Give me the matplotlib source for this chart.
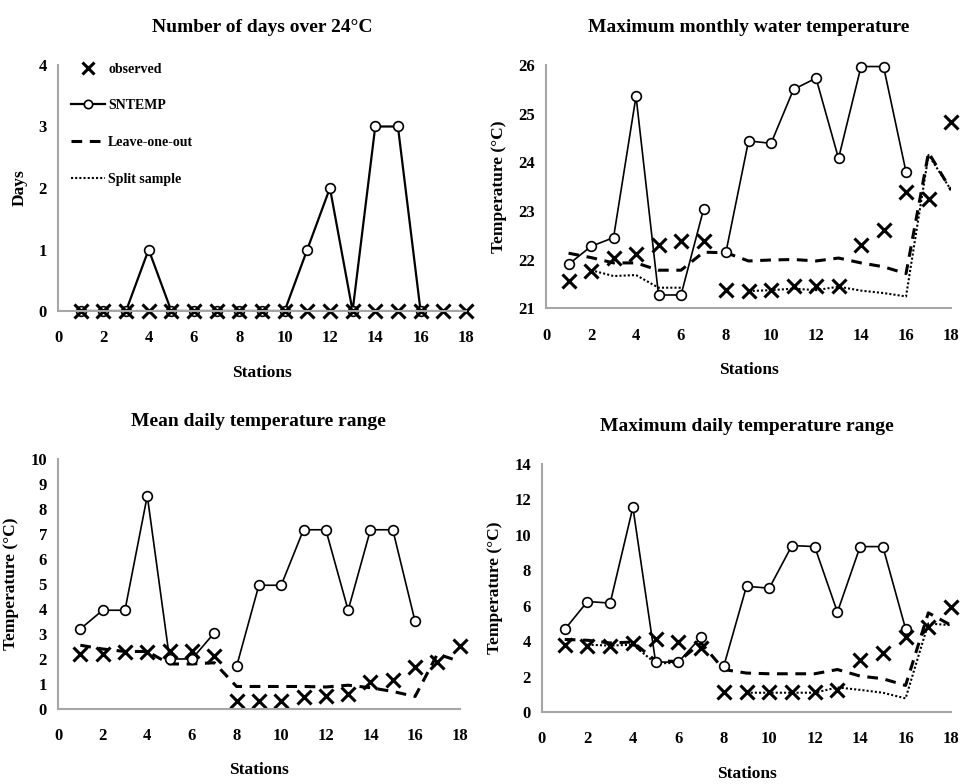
import numpy as np
import matplotlib.pyplot as plt
from matplotlib.lines import Line2D

nan = np.nan
stations = np.arange(1, 19)

# Number of days over 24 C
days_obs = [0] * 18
days_sntemp = [0, 0, 0, 1, 0, 0, 0, 0, 0, 0, 1, 2, 0, 3, 3, 0, nan, nan]
days_loo = [0] * 18
days_split = [0] * 18

# Maximum monthly water temperature
maxT_obs = [21.55, 21.77, 22.03, 22.12, 22.30, 22.39, 22.39, 21.38, 21.36,
            21.38, 21.45, 21.45, 21.45, 22.30, 22.61, 23.38, 23.24, 24.82]
maxT_sntemp = [21.90, 22.27, 22.45, 25.36, 21.27, 21.27, 23.03, 22.16, 24.44,
               24.39, 25.50, 25.73, 24.08, 25.97, 25.97, 23.80, nan, nan]
maxT_loo = [22.13, 22.04, 21.93, 21.93, 21.78, 21.78, 22.15, 22.14, 21.97,
            21.99, 22.00, 21.97, 22.03, 21.93, 21.85, 21.71, 24.20, 23.43]
maxT_split = [nan, 21.78, 21.66, 21.68, 21.42, 21.42, nan, nan, 21.35,
              21.37, 21.40, 21.37, 21.44, 21.36, 21.31, 21.24, 24.15, 23.43]

# Mean daily temperature range
meanR_obs = [2.20, 2.20, 2.27, 2.27, 2.33, 2.33, 2.13, 0.33, 0.33,
             0.33, 0.47, 0.53, 0.60, 1.07, 1.17, 1.67, 1.87, 2.50]
meanR_sntemp = [3.20, 3.95, 3.95, 8.53, 2.00, 2.00, 3.04, 1.70, 4.95,
                4.95, 7.17, 7.17, 3.95, 7.17, 7.17, 3.50, nan, nan]
meanR_loo = [2.55, 2.40, 2.30, 2.30, 1.80, 1.80, 1.85, 0.90, 0.90,
             0.90, 0.90, 0.88, 0.95, 0.85, 0.70, 0.50, 2.20, 1.90]

# Maximum daily temperature range
maxR_obs = [3.76, 3.72, 3.72, 3.91, 4.10, 3.95, 3.61, 1.13, 1.13,
            1.13, 1.13, 1.13, 1.26, 2.91, 3.35, 4.23, 4.79, 5.92]
maxR_sntemp = [4.66, 6.24, 6.15, 11.56, 2.82, 2.82, 4.23, 2.59, 7.10,
               6.99, 9.40, 9.34, 5.64, 9.34, 9.34, 4.70, nan, nan]
maxR_loo = [4.10, 4.05, 3.90, 3.95, 2.90, 2.85, 3.90, 2.40, 2.20,
            2.16, 2.16, 2.16, 2.40, 2.03, 1.88, 1.50, 5.60, 4.90]
maxR_split = [nan, 3.80, 3.75, 3.80, 2.75, 2.77, nan, nan, 1.09,
              1.09, 1.09, 1.09, 1.39, 1.25, 1.09, 0.77, 5.00, 4.90]

plt.rcParams['font.family'] = ['Liberation Serif', 'DejaVu Serif']
plt.rcParams['font.weight'] = 'bold'

fig = plt.figure(figsize=(9.62, 7.84), dpi=100)

panels = [
    # rect, title, ylabel, ylim, yticks, obs, sntemp, loo, split, gap
    ([0.0603, 0.6033, 0.424, 0.3138], 'Number of days over 24\u00b0C', 'Days',
     (0, 4), np.arange(0, 5, 1), days_obs, days_sntemp, days_loo, days_split, False),
    ([0.5676, 0.6070, 0.421, 0.3100], 'Maximum monthly water temperature', 'Temperature (\u00b0C)',
     (21, 26), np.arange(21, 27, 1), maxT_obs, maxT_sntemp, maxT_loo, maxT_split, True),
    ([0.0603, 0.0957, 0.4176, 0.3188], 'Mean daily temperature range', 'Temperature (\u00b0C)',
     (0, 10), np.arange(0, 11, 1), meanR_obs, meanR_sntemp, meanR_loo, None, True),
    ([0.5634, 0.0918, 0.4252, 0.3163], 'Maximum daily temperature range', 'Temperature (\u00b0C)',
     (0, 14), np.arange(0, 15, 2), maxR_obs, maxR_sntemp, maxR_loo, maxR_split, True),
]

for rect, title, ylabel, ylim, yticks, obs, sn, loo, split, gap in panels:
    ax = fig.add_axes(rect)
    sn = np.array(sn, dtype=float)
    if split is not None:
        ax.plot(stations, split, color='black', linestyle=(0, (1, 1)), linewidth=1.5)
    ax.plot(stations, loo, color='black', linestyle=(0, (3.5, 2.5)), linewidth=2.2)
    if gap:
        ax.plot(stations[:7], sn[:7], color='black', linewidth=1.2)
        ax.plot(stations[7:], sn[7:], color='black', linewidth=1.2)
    else:
        ax.plot(stations, sn, color='black', linewidth=1.6)
    ax.plot(stations, sn, linestyle='none', marker='o', markersize=7,
            markerfacecolor='white', markeredgecolor='black', markeredgewidth=1.2,
            clip_on=False)
    ax.plot(stations, obs, linestyle='none', marker='x', markersize=10,
            markeredgewidth=2.2, color='black', clip_on=False)

    ax.set_xlim(0, 18)
    ax.set_ylim(*ylim)
    ax.set_xticks(np.arange(0, 19, 2))
    ax.set_yticks(yticks)
    ax.tick_params(axis='x', length=0, labelsize=12, pad=14)
    ax.tick_params(axis='y', length=0, labelsize=12, pad=8)
    for s in ['top', 'right']:
        ax.spines[s].set_visible(False)
    for s in ['left', 'bottom']:
        ax.spines[s].set_color('#a6a6a6')
        ax.spines[s].set_linewidth(1.5)
    ax.set_title(title, fontsize=14, fontweight='bold', pad=24)
    ax.set_xlabel('Stations', fontsize=12.5, fontweight='bold', labelpad=13)
    ax.set_ylabel(ylabel, fontsize=12.5, fontweight='bold', labelpad=8)

    if title.startswith('Number'):
        handles = [
            Line2D([], [], linestyle='none', marker='x', markersize=8,
                   markeredgewidth=2.2, color='black'),
            Line2D([], [], color='black', linewidth=1.6, marker='o', markersize=6,
                   markerfacecolor='white', markeredgewidth=1.2),
            Line2D([], [], color='black', linestyle=(0, (3.5, 2.5)), linewidth=2.2),
            Line2D([], [], color='black', linestyle=(0, (1, 1)), linewidth=1.5),
        ]
        ax.legend(handles, ['observed', 'SNTEMP', 'Leave-one-out', 'Split sample'],
                  loc='upper left', bbox_to_anchor=(0.0, 1.06), frameon=False,
                  fontsize=10, handlelength=2.5, labelspacing=1.7, handletextpad=0.2)

fig.savefig('out.png', dpi=100)
